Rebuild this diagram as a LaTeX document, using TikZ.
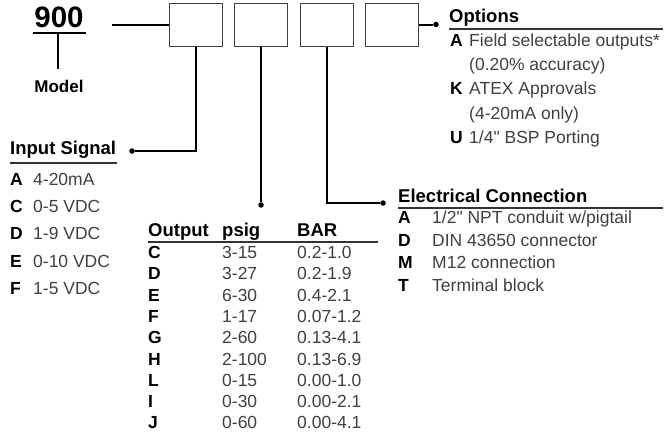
\documentclass[tikz,border=0pt]{standalone}
\usepackage{fontspec}
\setmainfont{Liberation Sans}[Ligatures=TeXOff]
\usetikzlibrary{positioning}

\tikzset{
	codebox/.style={draw=black!75, line width=1pt, minimum width=53pt, minimum height=43pt, inner sep=0pt},
	wire/.style={line width=2pt, black},
	rule/.style={line width=1.1pt, black!80},
	pin/.style={circle, fill=black, inner sep=0pt, minimum size=5.5pt},
	head/.style={font=\fontsize{18.5}{20}\selectfont\bfseries, inner sep=0pt, anchor=base west},
	key/.style={font=\fontsize{17.5}{20}\selectfont\bfseries, inner sep=0pt, anchor=base west},
	item/.style={font=\fontsize{17.5}{20}\selectfont, text=black!75, inner sep=0pt, anchor=base west}
}

\begin{document}
\begin{tikzpicture}[x=1pt, y=-1pt]
	\useasboundingbox (0,0) rectangle (668,439);
	
	% ==================== model ====================
	\node[font=\fontsize{29.5}{30}\selectfont\bfseries, inner sep=0pt, anchor=base] (num) at (59,27.5) {900};
	\draw[line width=2pt] (33,33) -- (86,33);
	\coordinate (numbar) at (58,33);
	\node[font=\fontsize{17}{18}\selectfont\bfseries, inner sep=0pt, anchor=base] (mdl) at (59,92) {Model};
	\draw[wire] (numbar) -- ([yshift=10pt]mdl.north -| numbar);
	
	% ==================== code boxes ====================
	\node[codebox] (box1) at (195.5,24.5) {};
	\node[codebox, right=11.5pt of box1] (box2) {};
	\node[codebox, right=11.5pt of box2] (box3) {};
	\node[codebox, right=11.5pt of box3] (box4) {};
	\coordinate (lead) at (112,24.5);
	\draw[wire] (lead) -- (box1.west);
	
	% pins
	\node[pin] (inpin) at (132,151) {};
	\node[pin] (outpin) at (box2.south |- 0,205) {};
	\node[pin] (elpin) at (383,203) {};
	\node[pin] (optpin) at (436,24.5) {};
	\draw[wire] (box1.south) |- (inpin);
	\draw[wire] (box2.south) -- (outpin);
	\draw[wire] (box3.south) |- (elpin);
	\draw[wire] (box4.east) -- (optpin);
	
	% ==================== input signal ====================
	\node[head] (inhd) at (10,154) {Input Signal};
	\draw[rule] (10,163) -- (117,163);
	\node[key] (inA) at (10,185) {A};   \node[item] (inAt) at (33,185) {4-20mA};
	\node[key] (inC) at (10,212.4) {C}; \node[item] (inCt) at (33,212.4) {0-5 VDC};
	\node[key] (inD) at (10,239.8) {D}; \node[item] (inDt) at (33,239.8) {1-9 VDC};
	\node[key] (inE) at (10,267.2) {E}; \node[item] (inEt) at (33,267.2) {0-10 VDC};
	\node[key] (inF) at (10,294.6) {F}; \node[item] (inFt) at (33,294.6) {1-5 VDC};
	
	% ==================== output table ====================
	\node[head] (outhd) at (148,236) {Output};
	\node[head] (psighd) at (222,236) {psig};
	\node[head] (barhd) at (297,236) {BAR};
	\draw[rule] (148,242) -- (378,242);
	\node[key] (oC) at (148,258.5) {C}; \node[item] (oCp) at (222,258.5) {3-15};  \node[item] (oCb) at (297,258.5) {0.2-1.0};
	\node[key] (oD) at (148,279.8) {D}; \node[item] (oDp) at (222,279.8) {3-27};  \node[item] (oDb) at (297,279.8) {0.2-1.9};
	\node[key] (oE) at (148,301.1) {E}; \node[item] (oEp) at (222,301.1) {6-30};  \node[item] (oEb) at (297,301.1) {0.4-2.1};
	\node[key] (oF) at (148,322.4) {F}; \node[item] (oFp) at (222,322.4) {1-17};  \node[item] (oFb) at (297,322.4) {0.07-1.2};
	\node[key] (oG) at (148,343.7) {G}; \node[item] (oGp) at (222,343.7) {2-60};  \node[item] (oGb) at (297,343.7) {0.13-4.1};
	\node[key] (oH) at (148,365.0) {H}; \node[item] (oHp) at (222,365.0) {2-100}; \node[item] (oHb) at (297,365.0) {0.13-6.9};
	\node[key] (oL) at (148,386.3) {L}; \node[item] (oLp) at (222,386.3) {0-15};  \node[item] (oLb) at (297,386.3) {0.00-1.0};
	\node[key] (oI) at (148,407.6) {I}; \node[item] (oIp) at (222,407.6) {0-30};  \node[item] (oIb) at (297,407.6) {0.00-2.1};
	\node[key] (oJ) at (148,428.9) {J}; \node[item] (oJp) at (222,428.9) {0-60};  \node[item] (oJb) at (297,428.9) {0.00-4.1};
	
	% ==================== electrical connection ====================
	\node[head] (elhd) at (398,202) {Electrical Connection};
	\draw[rule] (398,208) -- (663,208);
	\node[key] (eA) at (398,223.3) {A}; \node[item] (eAt) at (432,223.3) {1/2" NPT conduit w/pigtail};
	\node[key] (eD) at (398,246.0) {D}; \node[item] (eDt) at (432,246.0) {DIN 43650 connector};
	\node[key] (eM) at (398,268.7) {M}; \node[item] (eMt) at (432,268.7) {M12 connection};
	\node[key] (eT) at (398,291.4) {T}; \node[item] (eTt) at (432,291.4) {Terminal block};
	
	% ==================== options ====================
	\node[head] (opthd) at (449,22.5) {Options};
	\draw[rule] (449,29) -- (663,29);
	\node[key] (pA) at (450,46.7) {A}; \node[item] (pAt) at (469,46.7) {Field selectable outputs*};
	\node[item] (pAn) at (469,70.8) {(0.20\% accuracy)};
	\node[key] (pK) at (450,94.9) {K}; \node[item] (pKt) at (469,94.9) {ATEX Approvals};
	\node[item] (pKn) at (469,119) {(4-20mA only)};
	\node[key] (pU) at (450,143) {U}; \node[item] (pUt) at (469,143) {1/4" BSP Porting};
\end{tikzpicture}
\end{document}
